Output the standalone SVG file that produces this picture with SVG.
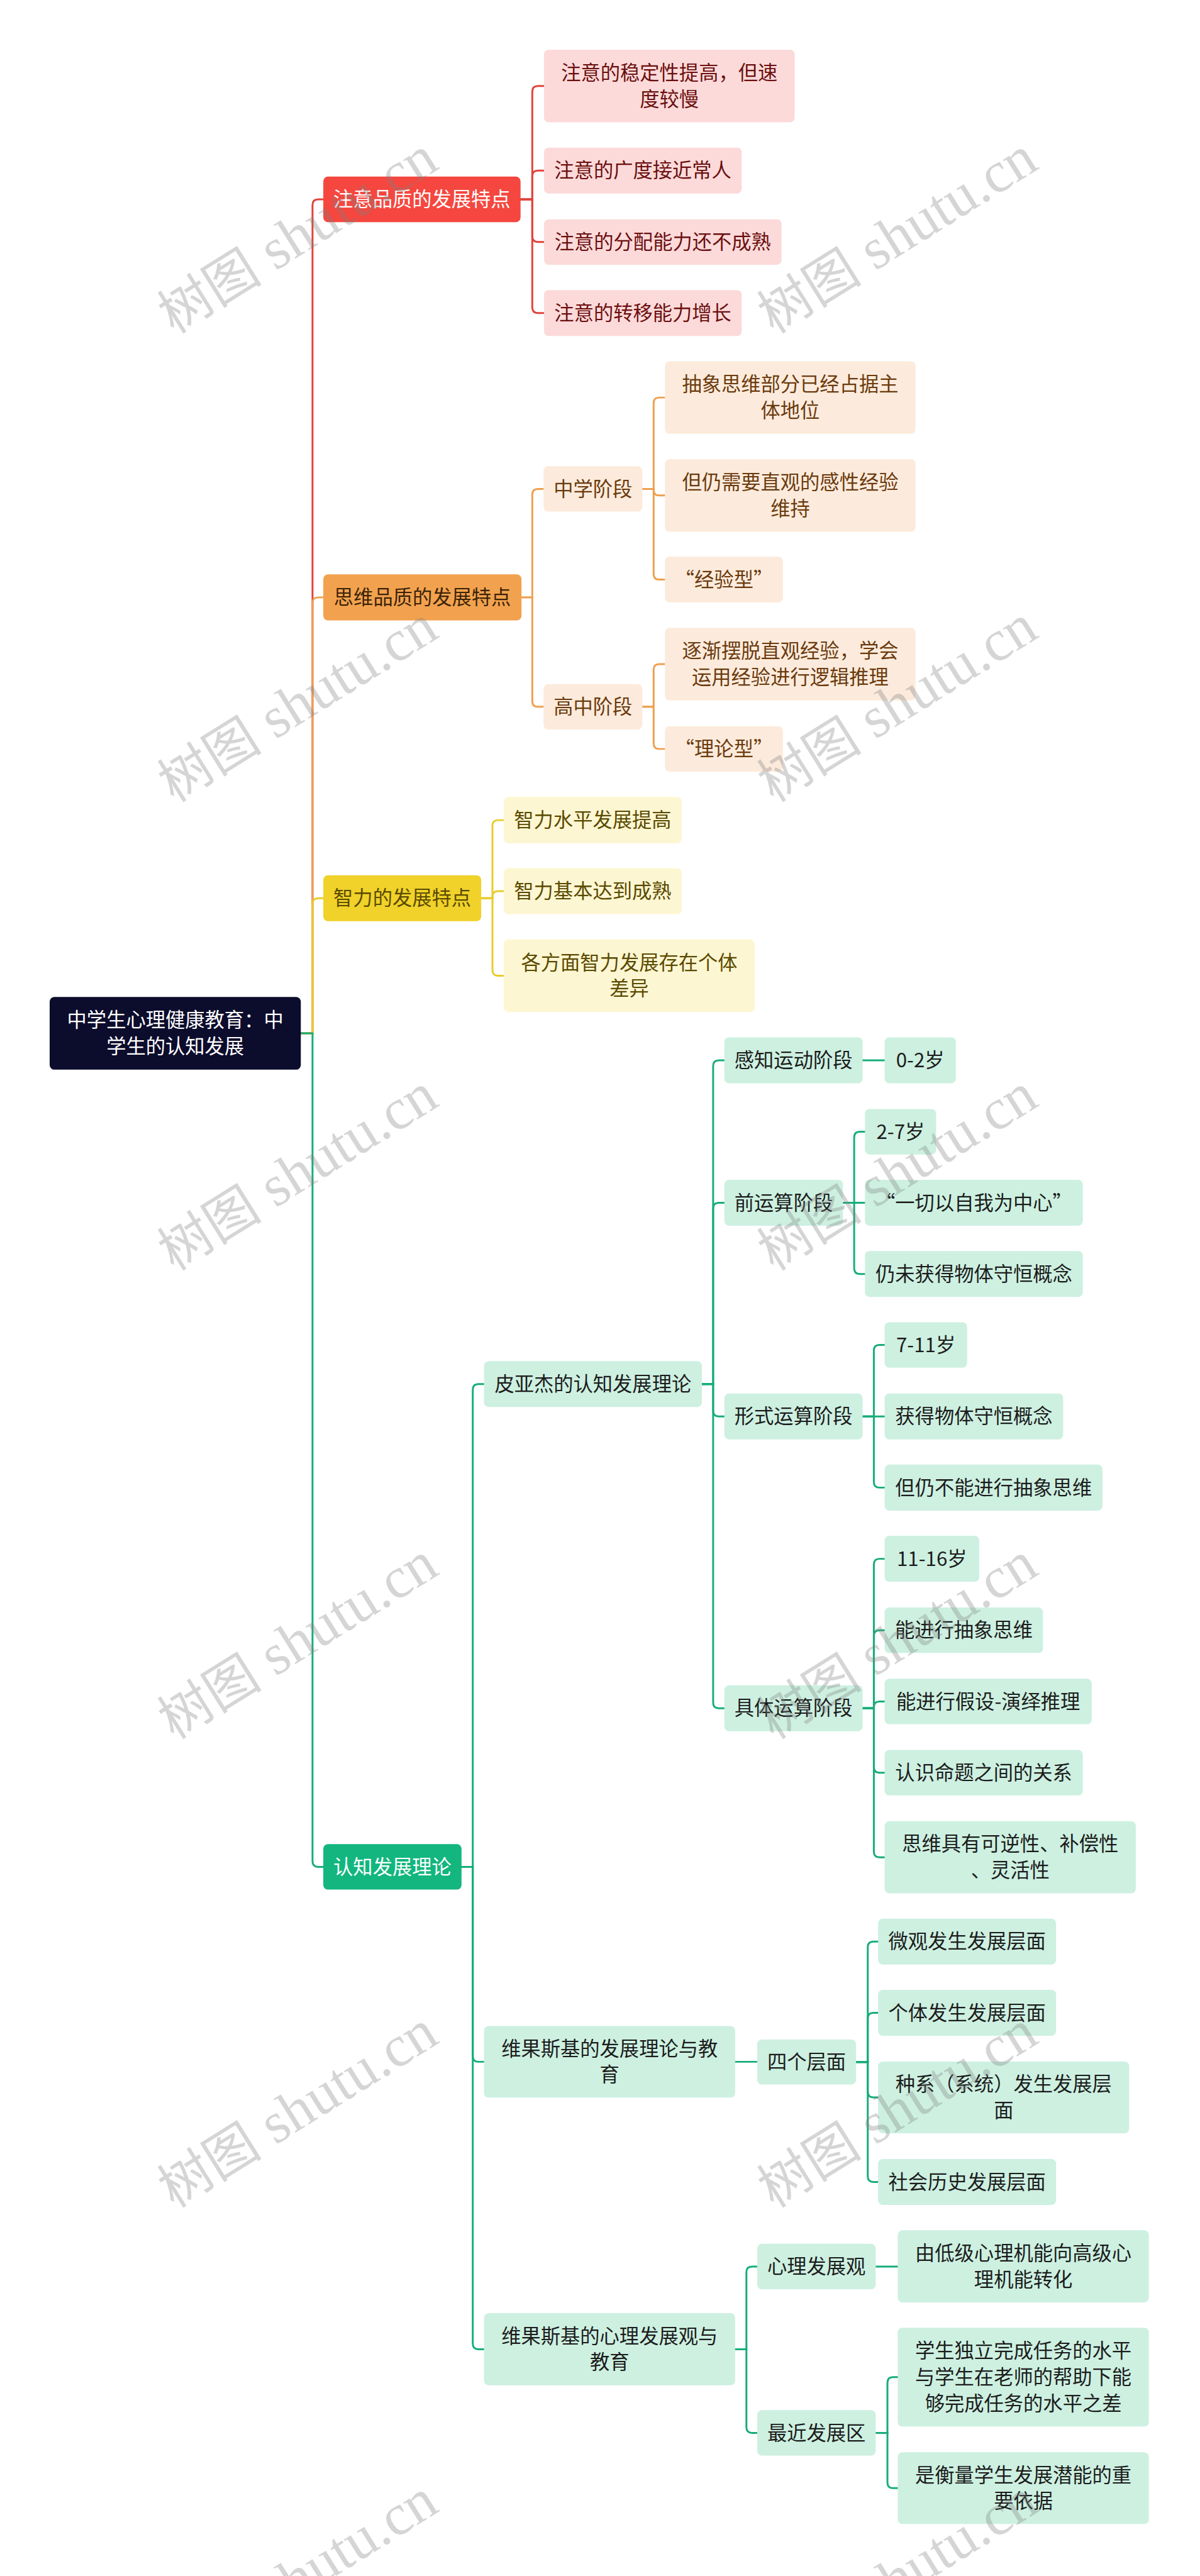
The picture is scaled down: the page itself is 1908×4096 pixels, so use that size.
<svg xmlns="http://www.w3.org/2000/svg" width="1908" height="4096" viewBox="0 0 1908 4096">
<style>
.t{font-family:"Noto Sans CJK SC","Noto Sans",sans-serif;font-size:42px;text-anchor:middle}
.cr path{stroke:#e0443c}
.co path{stroke:#eea04f}
.cy path{stroke:#e8cc2b}
.cg path{stroke:#17ad79}
.con path{fill:none;stroke-width:4;stroke-linecap:round}
.rb{fill:#f5473f}.rl{fill:#fcdada}.rt{fill:#6b0f0f}
.ob{fill:#f2a24e}.ol{fill:#fcebdc}.ot{fill:#6b3a0e}
.yb{fill:#f0d22a}.yl{fill:#fdf6d2}.yt{fill:#5a4a00}
.gb{fill:#12b67e}.gl{fill:#cdf0e1}.gt{fill:#1c1c1c}
.w{fill:#ffffff}
.wm{font-family:"Liberation Serif","Noto Sans CJK SC",serif;font-size:112px;fill:#808080;fill-opacity:0.33;text-anchor:middle}
.wl{font-size:124px}
</style>
<rect width="1908" height="4096" fill="#ffffff"/>
<g transform="scale(0.745)">
<g class="con">
<g class="cr">
<path d="M642 2205.5 H667 V437.5 Q667 425.5 679 425.5 H690"/>
<path d="M1111 425.5 H1136 V195.5 Q1136 183.5 1148 183.5 H1161"/>
<path d="M1111 425.5 H1136 V376 Q1136 364 1148 364 H1161"/>
<path d="M1111 425.5 H1136 V504.5 Q1136 516.5 1148 516.5 H1161"/>
<path d="M1111 425.5 H1136 V656 Q1136 668 1148 668 H1161"/>
</g>
<g class="co">
<path d="M642 2205.5 H667 V1287 Q667 1275 679 1275 H690"/>
<path d="M1113 1275 H1136 V1055.5 Q1136 1043.5 1148 1043.5 H1160"/>
<path d="M1113 1275 H1136 V1496.5 Q1136 1508.5 1148 1508.5 H1160"/>
<path d="M1371 1043.5 H1395 V860.5 Q1395 848.5 1407 848.5 H1419"/>
<path d="M1371 1043.5 H1395 V1045.5 Q1395 1057.5 1407 1057.5 H1419"/>
<path d="M1371 1043.5 H1395 V1225 Q1395 1237 1407 1237 H1419"/>
<path d="M1371 1508.5 H1395 V1429.5 Q1395 1417.5 1407 1417.5 H1419"/>
<path d="M1371 1508.5 H1395 V1586.5 Q1395 1598.5 1407 1598.5 H1419"/>
</g>
<g class="cy">
<path d="M642 2205.5 H667 V1929 Q667 1917 679 1917 H690"/>
<path d="M1027 1917 H1051 V1762.5 Q1051 1750.5 1063 1750.5 H1075"/>
<path d="M1027 1917 H1051 V1914 Q1051 1902 1063 1902 H1075"/>
<path d="M1027 1917 H1051 V2070.5 Q1051 2082.5 1063 2082.5 H1075"/>
</g>
<g class="cg">
<path d="M642 2205.5 H667 V3972.5 Q667 3984.5 679 3984.5 H690"/>
<path d="M985 3984.5 H1009 V2966 Q1009 2954 1021 2954 H1033"/>
<path d="M985 3984.5 H1009 V4388.5 Q1009 4400.5 1021 4400.5 H1033"/>
<path d="M985 3984.5 H1009 V5002 Q1009 5014 1021 5014 H1033"/>
<path d="M1498 2954 H1522 V2275 Q1522 2263 1534 2263 H1546"/>
<path d="M1498 2954 H1522 V2579 Q1522 2567 1534 2567 H1546"/>
<path d="M1498 2954 H1522 V3011 Q1522 3023 1534 3023 H1546"/>
<path d="M1498 2954 H1522 V3634 Q1522 3646 1534 3646 H1546"/>
<path d="M1841 2263 H1888"/>
<path d="M1799 2567 H1823 V2427.5 Q1823 2415.5 1835 2415.5 H1846"/>
<path d="M1799 2567 H1846"/>
<path d="M1799 2567 H1823 V2707 Q1823 2719 1835 2719 H1846"/>
<path d="M1841 3023 H1865 V2882.5 Q1865 2870.5 1877 2870.5 H1888"/>
<path d="M1841 3023 H1888"/>
<path d="M1841 3023 H1865 V3163 Q1865 3175 1877 3175 H1888"/>
<path d="M1841 3646 H1865 V3339 Q1865 3327 1877 3327 H1888"/>
<path d="M1841 3646 H1865 V3491.5 Q1865 3479.5 1877 3479.5 H1888"/>
<path d="M1841 3646 H1865 V3643.5 Q1865 3631.5 1877 3631.5 H1888"/>
<path d="M1841 3646 H1865 V3771.5 Q1865 3783.5 1877 3783.5 H1888"/>
<path d="M1841 3646 H1865 V3952 Q1865 3964 1877 3964 H1888"/>
<path d="M1569 4400.5 H1616"/>
<path d="M1827 4401 H1852 V4156 Q1852 4144 1864 4144 H1874"/>
<path d="M1827 4401 H1852 V4308 Q1852 4296 1864 4296 H1874"/>
<path d="M1827 4401 H1852 V4464.5 Q1852 4476.5 1864 4476.5 H1874"/>
<path d="M1827 4401 H1852 V4645 Q1852 4657 1864 4657 H1874"/>
<path d="M1569 5014 H1593 V4849.5 Q1593 4837.5 1605 4837.5 H1616"/>
<path d="M1569 5014 H1593 V5180.5 Q1593 5192.5 1605 5192.5 H1616"/>
<path d="M1869 4837.5 H1916"/>
<path d="M1869 5192.5 H1894 V5085.5 Q1894 5073.5 1906 5073.5 H1916"/>
<path d="M1869 5192.5 H1894 V5298.5 Q1894 5310.5 1906 5310.5 H1916"/>
</g>
</g>

<g id="root"><rect x="106" y="2128" width="536" height="155" rx="10" fill="#0c0c2c"/><text class="t w" x="374" y="2192.5">中学生心理健康教育：中</text><text class="t w" x="374" y="2248.5">学生的认知发展</text></g>

<g id="b1"><rect class="rb" x="690" y="377" width="421" height="97" rx="10"/><text class="t w" x="900.5" y="440.5">注意品质的发展特点</text></g>
<g id="l1"><rect class="rl" x="1161" y="106" width="535" height="155" rx="10"/><text class="t rt" x="1428.5" y="170.5">注意的稳定性提高，但速</text><text class="t rt" x="1428.5" y="226.5">度较慢</text></g>
<g id="l2"><rect class="rl" x="1161" y="315" width="422" height="98" rx="10"/><text class="t rt" x="1372" y="379">注意的广度接近常人</text></g>
<g id="l3"><rect class="rl" x="1161" y="468" width="507" height="97" rx="10"/><text class="t rt" x="1414.5" y="531.5">注意的分配能力还不成熟</text></g>
<g id="l4"><rect class="rl" x="1161" y="619" width="422" height="98" rx="10"/><text class="t rt" x="1372" y="683">注意的转移能力增长</text></g>

<g id="b2"><rect class="ob" x="690" y="1226" width="423" height="98" rx="10"/><text class="t" fill="#3a2208" x="901.5" y="1290">思维品质的发展特点</text></g>
<g id="o1"><rect class="ol" x="1160" y="995" width="211" height="97" rx="10"/><text class="t ot" x="1265.5" y="1058.5">中学阶段</text></g>
<g id="o2"><rect class="ol" x="1160" y="1460" width="211" height="97" rx="10"/><text class="t ot" x="1265.5" y="1523.5">高中阶段</text></g>
<g id="o1a"><rect class="ol" x="1419" y="771" width="535" height="155" rx="10"/><text class="t ot" x="1686.5" y="835.5">抽象思维部分已经占据主</text><text class="t ot" x="1686.5" y="891.5">体地位</text></g>
<g id="o1b"><rect class="ol" x="1419" y="980" width="535" height="155" rx="10"/><text class="t ot" x="1686.5" y="1044.5">但仍需要直观的感性经验</text><text class="t ot" x="1686.5" y="1100.5">维持</text></g>
<g id="o1c"><rect class="ol" x="1419" y="1188" width="252" height="98" rx="10"/><text class="t ot" x="1545" y="1252">“经验型”</text></g>
<g id="o2a"><rect class="ol" x="1419" y="1340" width="535" height="155" rx="10"/><text class="t ot" x="1686.5" y="1404.5">逐渐摆脱直观经验，学会</text><text class="t ot" x="1686.5" y="1460.5">运用经验进行逻辑推理</text></g>
<g id="o2b"><rect class="ol" x="1419" y="1550" width="252" height="97" rx="10"/><text class="t ot" x="1545" y="1613.5">“理论型”</text></g>

<g id="b3"><rect class="yb" x="690" y="1868" width="337" height="98" rx="10"/><text class="t yt" x="858.5" y="1932">智力的发展特点</text></g>
<g id="y1"><rect class="yl" x="1075" y="1701" width="380" height="99" rx="10"/><text class="t yt" x="1265" y="1765.5">智力水平发展提高</text></g>
<g id="y2"><rect class="yl" x="1075" y="1853" width="380" height="98" rx="10"/><text class="t yt" x="1265" y="1917">智力基本达到成熟</text></g>
<g id="y3"><rect class="yl" x="1075" y="2005" width="536" height="155" rx="10"/><text class="t yt" x="1343" y="2069.5">各方面智力发展存在个体</text><text class="t yt" x="1343" y="2125.5">差异</text></g>

<g id="b4"><rect class="gb" x="690" y="3936" width="295" height="97" rx="10"/><text class="t w" x="837.5" y="3999.5">认知发展理论</text></g>
<g id="g1"><rect class="gl" x="1033" y="2905" width="465" height="98" rx="10"/><text class="t gt" x="1265.5" y="2969">皮亚杰的认知发展理论</text></g>
<g id="g2"><rect class="gl" x="1033" y="4324" width="536" height="153" rx="10"/><text class="t gt" x="1301" y="4387.5">维果斯基的发展理论与教</text><text class="t gt" x="1301" y="4443.5">育</text></g>
<g id="g3"><rect class="gl" x="1033" y="4937" width="536" height="154" rx="10"/><text class="t gt" x="1301" y="5001">维果斯基的心理发展观与</text><text class="t gt" x="1301" y="5057">教育</text></g>

<g id="p1"><rect class="gl" x="1546" y="2214" width="295" height="98" rx="10"/><text class="t gt" x="1693.5" y="2278">感知运动阶段</text></g>
<g id="p1a"><rect class="gl" x="1888" y="2214" width="152" height="98" rx="10"/><text class="t gt" x="1964" y="2278">0-2岁</text></g>
<g id="p2"><rect class="gl" x="1546" y="2518" width="253" height="98" rx="10"/><text class="t gt" x="1672.5" y="2582">前运算阶段</text></g>
<g id="p2a"><rect class="gl" x="1846" y="2367" width="152" height="97" rx="10"/><text class="t gt" x="1922" y="2430.5">2-7岁</text></g>
<g id="p2b"><rect class="gl" x="1846" y="2518" width="465" height="98" rx="10"/><text class="t gt" x="2078.5" y="2582">“一切以自我为中心”</text></g>
<g id="p2c"><rect class="gl" x="1846" y="2670" width="465" height="98" rx="10"/><text class="t gt" x="2078.5" y="2734">仍未获得物体守恒概念</text></g>
<g id="p3"><rect class="gl" x="1546" y="2974" width="295" height="98" rx="10"/><text class="t gt" x="1693.5" y="3038">形式运算阶段</text></g>
<g id="p3a"><rect class="gl" x="1888" y="2822" width="176" height="97" rx="10"/><text class="t gt" x="1976" y="2885.5">7-11岁</text></g>
<g id="p3b"><rect class="gl" x="1888" y="2974" width="381" height="98" rx="10"/><text class="t gt" x="2078.5" y="3038">获得物体守恒概念</text></g>
<g id="p3c"><rect class="gl" x="1888" y="3126" width="465" height="98" rx="10"/><text class="t gt" x="2120.5" y="3190">但仍不能进行抽象思维</text></g>
<g id="p4"><rect class="gl" x="1546" y="3597" width="295" height="98" rx="10"/><text class="t gt" x="1693.5" y="3661">具体运算阶段</text></g>
<g id="p4a"><rect class="gl" x="1888" y="3278" width="202" height="98" rx="10"/><text class="t gt" x="1989" y="3342">11-16岁</text></g>
<g id="p4b"><rect class="gl" x="1888" y="3431" width="338" height="97" rx="10"/><text class="t gt" x="2057" y="3494.5">能进行抽象思维</text></g>
<g id="p4c"><rect class="gl" x="1888" y="3583" width="442" height="97" rx="10"/><text class="t gt" x="2109" y="3646.5">能进行假设-演绎推理</text></g>
<g id="p4d"><rect class="gl" x="1888" y="3735" width="423" height="97" rx="10"/><text class="t gt" x="2099.5" y="3798.5">认识命题之间的关系</text></g>
<g id="p4e"><rect class="gl" x="1888" y="3887" width="536" height="154" rx="10"/><text class="t gt" x="2156" y="3951">思维具有可逆性、补偿性</text><text class="t gt" x="2156" y="4007">、灵活性</text></g>

<g id="q"><rect class="gl" x="1616" y="4353" width="211" height="96" rx="10"/><text class="t gt" x="1721.5" y="4416">四个层面</text></g>
<g id="v1"><rect class="gl" x="1874" y="4095" width="380" height="98" rx="10"/><text class="t gt" x="2064" y="4159">微观发生发展层面</text></g>
<g id="v2"><rect class="gl" x="1874" y="4247" width="380" height="98" rx="10"/><text class="t gt" x="2064" y="4311">个体发生发展层面</text></g>
<g id="v3"><rect class="gl" x="1874" y="4400" width="536" height="153" rx="10"/><text class="t gt" x="2142" y="4463.5">种系（系统）发生发展层</text><text class="t gt" x="2142" y="4519.5">面</text></g>
<g id="v4"><rect class="gl" x="1874" y="4608" width="380" height="98" rx="10"/><text class="t gt" x="2064" y="4672">社会历史发展层面</text></g>

<g id="w1"><rect class="gl" x="1616" y="4789" width="253" height="97" rx="10"/><text class="t gt" x="1742.5" y="4852.5">心理发展观</text></g>
<g id="w1a"><rect class="gl" x="1916" y="4760" width="536" height="154" rx="10"/><text class="t gt" x="2184" y="4824">由低级心理机能向高级心</text><text class="t gt" x="2184" y="4880">理机能转化</text></g>
<g id="w2"><rect class="gl" x="1616" y="5144" width="253" height="97" rx="10"/><text class="t gt" x="1742.5" y="5207.5">最近发展区</text></g>
<g id="w2a"><rect class="gl" x="1916" y="4968" width="536" height="211" rx="10"/><text class="t gt" x="2184" y="5032.5">学生独立完成任务的水平</text><text class="t gt" x="2184" y="5088.5">与学生在老师的帮助下能</text><text class="t gt" x="2184" y="5144.5">够完成任务的水平之差</text></g>
<g id="w2b"><rect class="gl" x="1916" y="5234" width="536" height="153" rx="10"/><text class="t gt" x="2184" y="5297.5">是衡量学生发展潜能的重</text><text class="t gt" x="2184" y="5353.5">要依据</text></g>

<g id="watermarks">
<text class="wm" transform="translate(656 536) rotate(-32)">树图<tspan class="wl"> shutu.cn</tspan></text>
<text class="wm" transform="translate(1936 536) rotate(-32)">树图<tspan class="wl"> shutu.cn</tspan></text>
<text class="wm" transform="translate(656 1536) rotate(-32)">树图<tspan class="wl"> shutu.cn</tspan></text>
<text class="wm" transform="translate(1936 1536) rotate(-32)">树图<tspan class="wl"> shutu.cn</tspan></text>
<text class="wm" transform="translate(656 2536) rotate(-32)">树图<tspan class="wl"> shutu.cn</tspan></text>
<text class="wm" transform="translate(1936 2536) rotate(-32)">树图<tspan class="wl"> shutu.cn</tspan></text>
<text class="wm" transform="translate(656 3536) rotate(-32)">树图<tspan class="wl"> shutu.cn</tspan></text>
<text class="wm" transform="translate(1936 3536) rotate(-32)">树图<tspan class="wl"> shutu.cn</tspan></text>
<text class="wm" transform="translate(656 4536) rotate(-32)">树图<tspan class="wl"> shutu.cn</tspan></text>
<text class="wm" transform="translate(1936 4536) rotate(-32)">树图<tspan class="wl"> shutu.cn</tspan></text>
<text class="wm" transform="translate(656 5536) rotate(-32)">树图<tspan class="wl"> shutu.cn</tspan></text>
<text class="wm" transform="translate(1936 5536) rotate(-32)">树图<tspan class="wl"> shutu.cn</tspan></text>
</g>
</g>
</svg>
